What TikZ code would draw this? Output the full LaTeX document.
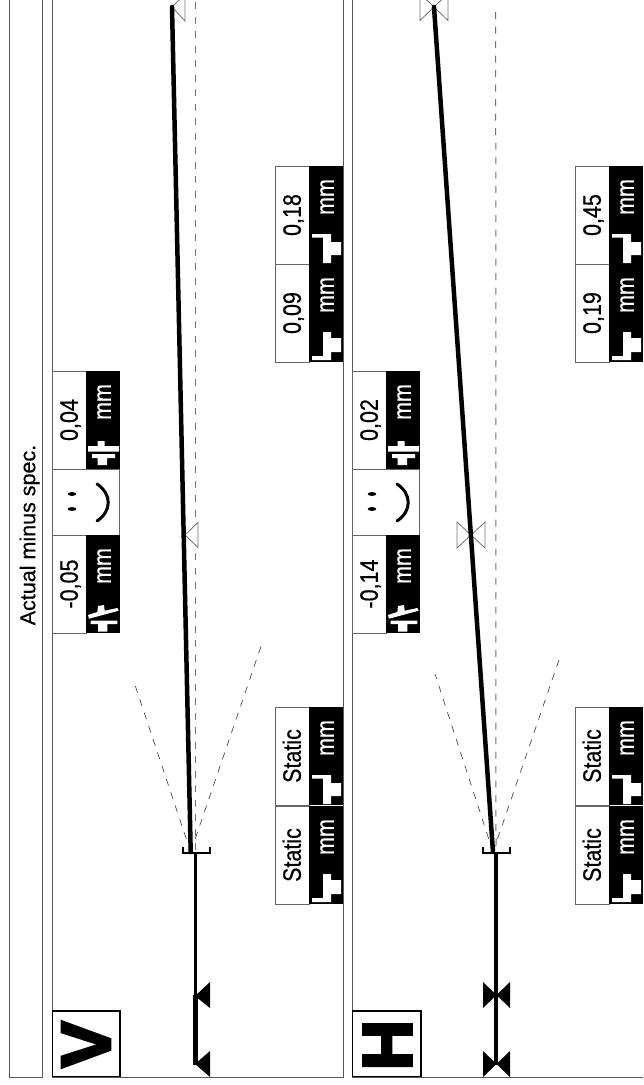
\documentclass[tikz,border=0pt]{standalone}
\usepackage{fontspec}
\usepackage{graphicx}
\setmainfont{Liberation Sans}[FakeBold=0.5]
\newfontfamily\heavyface{Liberation Sans}[UprightFont=* Bold,FakeBold=4]
\newcommand{\txtsize}{\fontsize{21.5}{24}\selectfont}
\newcommand{\tall}[1]{\scalebox{1}[1.17]{#1}}
\tikzset{
  framegray/.style={draw=black!65,line width=1pt},
  cellline/.style={draw=black!60,line width=1pt,fill=white},
  blackcell/.style={fill=black,draw=none},
  iconshape/.style={fill=white,draw=none},
  valtext/.style={rotate=90,inner sep=0pt,text height=17.5pt,text depth=0pt,font=\txtsize},
  unittext/.style={rotate=90,inner sep=0pt,text height=12.6pt,text depth=0pt,font=\txtsize,text=white},
  refdash/.style={draw=black!55,line width=1pt,dash pattern=on 7pt off 7.5pt},
  fandash/.style={draw=black!70,line width=.7pt,dash pattern=on 7pt off 7pt},
  beam/.style={draw=black,line width=4.5pt,line cap=round},
  shaft/.style={draw=black,line width=3.4pt},
  shaftheavy/.style={draw=black,line width=4.5pt},
  hollowmark/.style={draw=black!55,line width=.8pt,fill=white},
  solidmark/.style={fill=black},
  bracketline/.style={draw=black,line width=1.4pt},
  letterbox/.style={draw=black,line width=1.4pt,fill=white},
  bigletter/.style={rotate=90,inner sep=0pt,font=\fontsize{70}{70}\selectfont\heavyface},
}
% icons in the local frame of a value cell
\newcommand{\iconL}{\fill[iconshape] (37,68)--(56,68)--(56,76)--(66,76)--(66,89)--(56,89)--(56,97)--(48,97)--(48,71.5)--(37,71.5)--cycle;}
\newcommand{\iconR}{\fill[iconshape] (48,68)--(56,68)--(56,74)--(66,74)--(66,88)--(56,88)--(56,96)--(37,96)--(37,92)--(48,92)--cycle;}
\newcommand{\iconP}{\fill[iconshape] (45.5,70)--(52.7,70)--(52.7,75)--(67,75)--(67,80.5)--(36,80.5)--(36,75)--(45.5,75)--cycle;
  \fill[iconshape] (40,83)--(63,83)--(63,87)--(55,87)--(55,94)--(45.5,94)--(45.5,87)--(40,87)--cycle;}
\newcommand{\iconT}{\fill[iconshape] (36,80)--(45.3,77)--(46,71)--(52,70)--(52.7,75.7)--(65.3,73)--(66.7,75.7)--(37,83.7)--cycle;
  \fill[iconshape] (38.7,85.7)--(65.3,85.7)--(65.3,89)--(55.3,89)--(55.3,96.7)--(46,96.7)--(46,89)--(38.7,89)--cycle;}
% #1 x, #2 y, #3 name prefix, #4 value, #5 icon
\newcommand{\valcell}[5]{%
  \begin{scope}[shift={(#1,#2)}]
    \path[cellline] (0,0) rectangle (34,98);
    \path[blackcell] (34,0) rectangle (68,98);
    \node[valtext] (#3val) at (17,49) {\tall{#4}};
    \node[unittext] (#3mm) at (52.5,31) {\tall{mm}};
    #5
  \end{scope}}
\newcommand{\smiley}[2]{%
  \begin{scope}[shift={(#1,#2)}]
    \path[cellline] (0,0) rectangle (67,66);
    \fill (20,25) ellipse (4.3 and 1.9);
    \fill (20,40) ellipse (4.3 and 1.9);
    \draw[line width=3pt,line cap=round] (45,15) .. controls (60,25) and (60,42) .. (45,52);
  \end{scope}}
\begin{document}
\begin{tikzpicture}[x=1pt,y=-1pt]
\useasboundingbox (0,0) rectangle (643,1085);
\clip (0,0) rectangle (643,1085);
\fill[white] (0,0) rectangle (643,1085);
% frames
\path[framegray] (9,-5) rectangle (42,1077);
\path[framegray] (52,-5) rectangle (343,1077);
\path[framegray] (352,-5) rectangle (650,1077);
\node[rotate=90,inner sep=0pt,font=\txtsize,text height=15.4pt,text depth=0pt] (title) at (27.5,535) {Actual minus spec.};
% ---------- V panel ----------
\coordinate (vtop) at (172,7);
\coordinate (vmid) at (185,535);
\coordinate (vpivot) at (190.7,852);
\coordinate (vshaft) at (195.5,852);
\coordinate (vfoota) at (195.5,995);
\coordinate (vfootb) at (195.5,1065);
\coordinate (vreftop) at (195.5,2);
\coordinate (vfanl) at (135,685);
\coordinate (vfanr) at (261.5,645);
\draw[refdash] (vreftop) -- (vshaft);
\draw[fandash] (vpivot) -- (vfanl);
\draw[fandash] (vpivot) -- (vfanr);
\draw[hollowmark] (vtop) -- ++(13,-13) -- ++(0,27) -- cycle;
\draw[hollowmark] (vmid) -- ++(13,-12.5) -- ++(0,25) -- cycle;
\draw[beam] (vtop) -- (vpivot);
\draw[bracketline] (183,847) -- (183,853) -- (210,853) -- (210,847);
\draw[shaft] (vshaft) -- (vfoota);
\draw[shaftheavy] (vfoota) -- (vfootb);
\fill[solidmark] (195,996) -- (210,982) -- (210,1008) -- cycle;
\fill[solidmark] (195,1064) -- (210,1051) -- (210,1077) -- cycle;
\path[letterbox] (52.5,1011) rectangle (120,1076.5);
\node[bigletter] (vletter) at (86,1044.5) {V};
\valcell{52}{371}{a}{0,04}{\iconP}
\smiley{52}{469}
\valcell{52}{535}{b}{-0,05}{\iconT}
\valcell{275}{166}{c}{0,18}{\iconL}
\valcell{275}{264}{d}{0,09}{\iconR}
\valcell{275}{707}{e}{Static}{\iconL}
\valcell{275}{806}{f}{Static}{\iconR}
% ---------- H panel ----------
\coordinate (htop) at (434,7);
\coordinate (hmid) at (471,535);
\coordinate (hpivot) at (493,852);
\coordinate (hshaft) at (496,852);
\coordinate (hfoota) at (496,995);
\coordinate (hfootb) at (496,1065);
\coordinate (hreftop) at (495.7,12);
\coordinate (hfanl) at (435,674);
\coordinate (hfanr) at (560,657);
\draw[refdash] (hreftop) -- (hshaft);
\draw[fandash] (hpivot) -- (hfanl);
\draw[fandash] (hpivot) -- (hfanr);
\draw[hollowmark] (htop) -- ++(14,-13.5) -- ++(0,27) -- cycle;
\draw[hollowmark] (htop) -- ++(-14,-13.5) -- ++(0,27) -- cycle;
\draw[hollowmark] (hmid) -- ++(14,-13) -- ++(0,26) -- cycle;
\draw[hollowmark] (hmid) -- ++(-14,-13) -- ++(0,26) -- cycle;
\draw[beam] (htop) -- (hpivot);
\draw[bracketline] (483,847) -- (483,853) -- (510,853) -- (510,847);
\draw[shaft] (hshaft) -- (hfoota);
\draw[shaft] (hfoota) -- (hfootb);
\fill[solidmark] (496.5,995) -- (510,982) -- (510,1008) -- cycle;
\fill[solidmark] (496.5,995) -- (483,982) -- (483,1008) -- cycle;
\fill[solidmark] (496.5,1064) -- (510,1051) -- (510,1077) -- cycle;
\fill[solidmark] (496.5,1064) -- (483,1051) -- (483,1077) -- cycle;
\path[letterbox] (352.5,1011) rectangle (421,1076.5);
\node[bigletter] (hletter) at (387.5,1045) {H};
\valcell{352}{371}{g}{0,02}{\iconP}
\smiley{352}{469}
\valcell{352}{535}{h}{-0,14}{\iconT}
\valcell{575}{166}{i}{0,45}{\iconL}
\valcell{575}{264}{j}{0,19}{\iconR}
\valcell{575}{707}{k}{Static}{\iconL}
\valcell{575}{806}{l}{Static}{\iconR}
\end{tikzpicture}
\end{document}
